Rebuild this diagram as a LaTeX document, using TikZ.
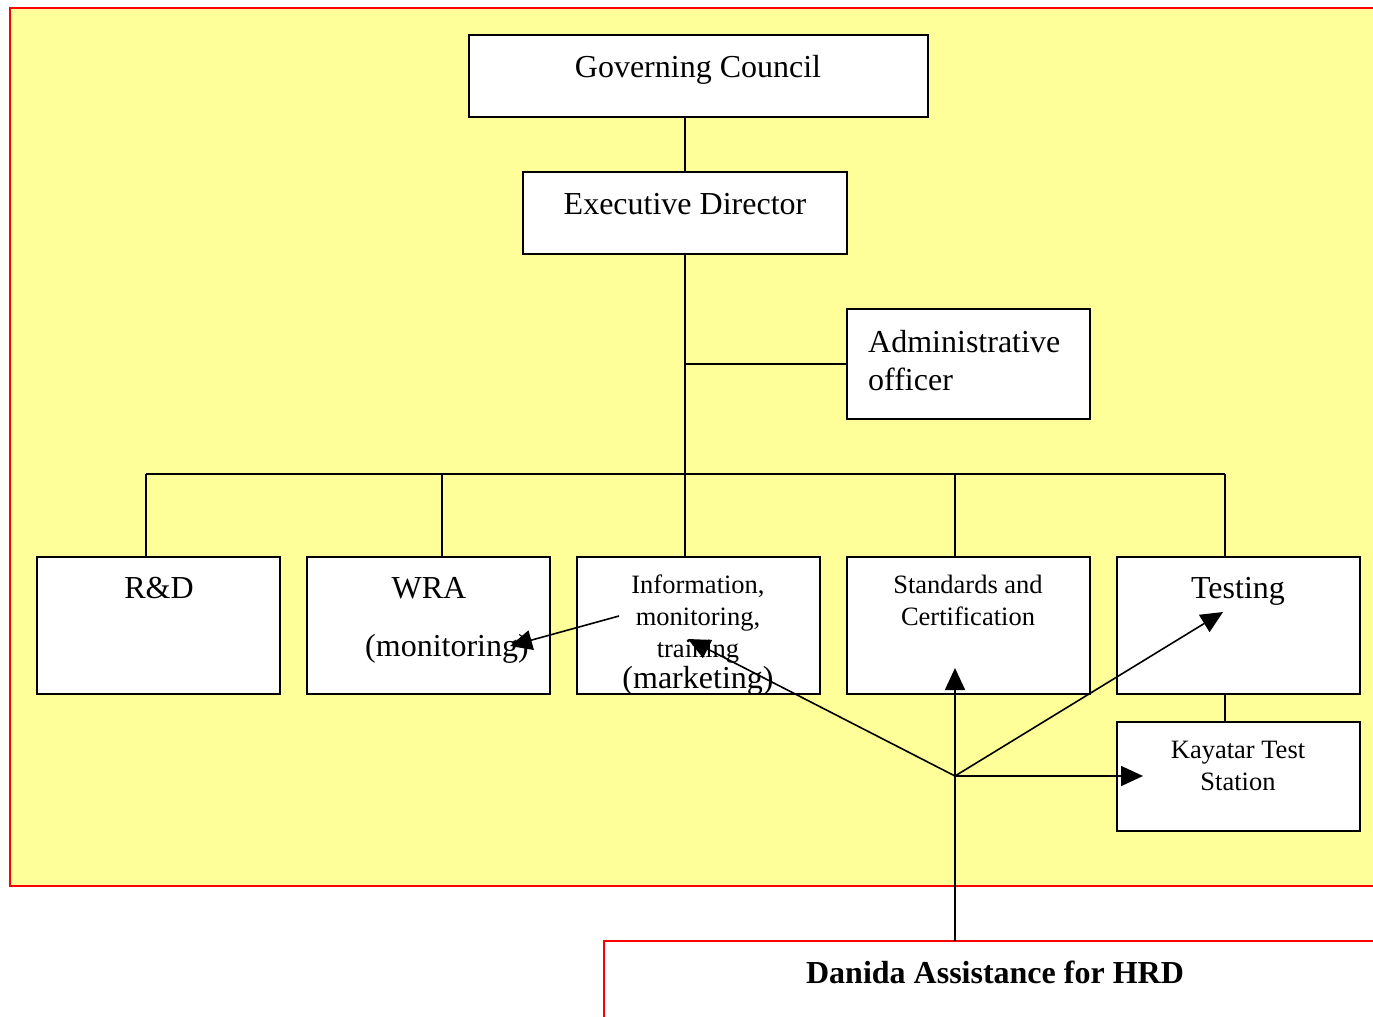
\documentclass[tikz,border=0pt]{standalone}
\usepackage{fontspec}
\setmainfont{Liberation Serif}
\usetikzlibrary{arrows.meta}
\definecolor{bgyellow}{RGB}{255,255,153}
\begin{document}
\begin{tikzpicture}[x=1pt,y=-1pt,
  box/.style={draw=black,fill=white,line width=1.6pt,inner sep=0pt,anchor=center},
  conn/.style={draw=black,line width=1.6pt},
  arr/.style={draw=black,line width=1.6pt,-{Triangle[length=22pt,width=20pt]}},
  big/.style={font=\fontsize{32}{36}\selectfont,anchor=base,inner sep=0pt},
  small/.style={font=\fontsize{26.5}{30}\selectfont,anchor=base,inner sep=0pt},
  bold/.style={font=\fontsize{32}{36}\selectfont\bfseries,anchor=base,inner sep=0pt}]
\useasboundingbox (0,0) rectangle (1373,1017);
% yellow background
\fill[bgyellow] (10,8) rectangle (1380,886);
\draw[red,line width=1.8pt] (1380,8) -- (10,8) -- (10,886) -- (1380,886);
% Danida box
\draw[red,line width=1.8pt] (604,1030) -- (604,941) -- (1380,941);
\node[bold] (tdan) at (995,983) {Danida Assistance for HRD};
% boxes (centres)
\node[box,minimum width=459pt,minimum height=82pt] (gc) at (698.5,76) {};
\node[box,minimum width=324pt,minimum height=82pt] (ed) at (685,213) {};
\node[box,minimum width=243pt,minimum height=110pt] (adm) at (968.5,364) {};
\node[box,minimum width=243pt,minimum height=137pt] (rd) at (158.5,625.5) {};
\node[box,minimum width=243pt,minimum height=137pt] (wra) at (428.5,625.5) {};
\node[box,minimum width=243pt,minimum height=137pt] (info) at (698.5,625.5) {};
\node[box,minimum width=243pt,minimum height=137pt] (std) at (968.5,625.5) {};
\node[box,minimum width=243pt,minimum height=137pt] (tst) at (1238.5,625.5) {};
\node[box,minimum width=243pt,minimum height=109pt] (kay) at (1238.5,776.5) {};
% texts
\node[big] (tgc) at (698,77) {Governing Council};
\node[big] (ted) at (685,214) {Executive Director};
\node[big,anchor=base west] (tadm1) at (868,352) {Administrative};
\node[big,anchor=base west] (tadm2) at (868,390) {officer};
\node[big] (trd) at (159,598) {R\&D};
\node[big] (twra) at (429,598) {WRA};
\node[big] (twra2) at (447,656) {(monitoring)};
\node[small] (ti1) at (698,593) {Information,};
\node[small] (ti2) at (698,625) {monitoring,};
\node[small] (ti3) at (698,657) {training};
\node[big] (ti4) at (698,688) {(marketing)};
\node[small] (ts1) at (968,593) {Standards and};
\node[small] (ts2) at (968,625) {Certification};
\node[big] (ttst) at (1238,598) {Testing};
\node[small] (tk1) at (1238,758) {Kayatar Test};
\node[small] (tk2) at (1238,790) {Station};
% tree connectors
\coordinate (adj) at (685,364);
\coordinate (bus) at (685,474);
\coordinate (busl) at (146,474);
\coordinate (busr) at (1225,474);
\draw[conn] (gc.south -| ed.north) -- (ed.north);
\draw[conn] (ed.south) -- (bus);
\draw[conn] (adj) -- (adj -| adm.west);
\draw[conn] (busl) -- (busr);
\draw[conn] (busl) -- (busl |- rd.north);
\draw[conn] (442,474) -- (442,557);
\draw[conn] (bus) -- (info.north -| bus);
\draw[conn] (955,474) -- (955,557);
\draw[conn] (busr) -- (busr |- tst.north);
\draw[conn] (busr |- tst.south) -- (busr |- kay.north);
% Danida arrows
\coordinate (hub) at (955,776);
\coordinate (dtop) at (955,941);
\coordinate (tipstd) at (955,668);
\coordinate (tipkay) at (1143,776);
\coordinate (tiptst) at (1223,612);
\coordinate (tipinfo) at (688,639);
\coordinate (wrafrom) at (619,616);
\coordinate (tipwra) at (510,646);
\draw[conn] (dtop) -- (hub);
\draw[arr] (hub) -- (tipstd);
\draw[arr] (hub) -- (tipkay);
\draw[arr] (hub) -- (tiptst);
\draw[arr] (hub) -- (tipinfo);
\draw[arr] (wrafrom) -- (tipwra);
\end{tikzpicture}
\end{document}
